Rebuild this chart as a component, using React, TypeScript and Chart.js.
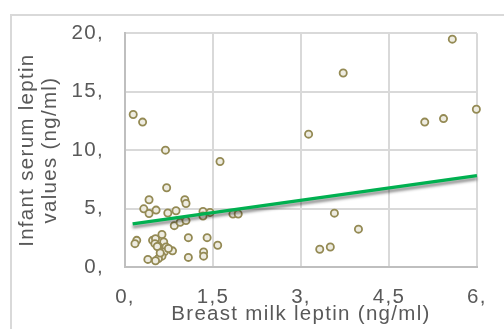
import React, { useEffect, useRef } from 'react';
import { Chart, registerables } from 'chart.js';

Chart.register(...registerables);

// Breast milk leptin (ng/ml)
const milkLeptin = [
  0.14, 0.30, 0.69, 1.62, 0.71, 0.41, 0.32, 0.41, 0.53, 1.02, 1.04, 0.73, 0.87,
  0.84, 0.94, 1.04, 1.33, 1.33, 1.45, 1.84, 1.93, 0.20, 0.17, 0.47, 0.52, 0.63,
  0.51, 0.66, 0.57, 0.70, 0.81, 0.67, 0.63, 0.57, 0.52, 0.39, 1.08, 1.08, 1.40,
  1.34, 1.34, 1.58, 0.55, 0.74, 0.60,
  3.13, 3.72, 5.58, 5.11, 5.43, 5.99, 3.57, 3.98, 3.32, 3.50,
];
// Infant serum leptin values (ng/ml)
const serumLeptin = [
  13.05, 12.4, 10.0, 9.03, 6.78, 5.76, 4.98, 4.58, 4.87, 5.76, 5.43, 4.62, 4.81,
  3.54, 3.82, 3.97, 4.75, 4.36, 4.67, 4.53, 4.53, 2.28, 2.0, 2.28, 2.42, 2.78,
  2.0, 2.14, 1.77, 1.71, 1.38, 1.29, 0.93, 0.73, 0.53, 0.65, 2.51, 0.82, 2.51,
  1.29, 0.93, 1.86, 1.75, 1.58, 1.2,
  11.37, 16.6, 19.5, 12.4, 12.7, 13.5, 4.61, 3.24, 1.52, 1.71,
];
// Linear trendline end points
const trendX = [0.13, 6.0];
const trendY = [3.69, 7.82];

const xTickLabels = ['0,', '1,5', '3,', '4,5', '6,'];
const yTickLabels = ['0,', '5,', '10,', '15,', '20,'];
const xTitle = 'Breast milk leptin (ng/ml)';
const yTitle = ['Infant serum leptin', 'values (ng/ml)'];

const FONT_FAMILY = "'Liberation Sans', Arial, sans-serif";
const TEXT_COLOR = '#595959';

const spacingPlugin = {
  id: 'letterSpacing',
  beforeDraw(chart: any) {
    (chart.ctx as any).letterSpacing = '1.3px';
  },
  afterDraw(chart: any) {
    (chart.ctx as any).letterSpacing = '0px';
  },
};

const shadowPlugin = {
  id: 'trendShadow',
  beforeDatasetDraw(chart: any, args: any) {
    if (args.index === 0) {
      const c = chart.ctx;
      c.save();
      c.shadowColor = 'rgba(0,0,0,0.45)';
      c.shadowBlur = 3;
      c.shadowOffsetX = 0;
      c.shadowOffsetY = 3;
    }
  },
  afterDatasetDraw(chart: any, args: any) {
    if (args.index === 0) chart.ctx.restore();
  },
};

export default function App() {
  const ref = useRef<HTMLCanvasElement | null>(null);

  useEffect(() => {
    if (!ref.current) return;
    const tickFont = { family: FONT_FAMILY, size: 20.5, lineHeight: 1.2 };
    const titleFont = { family: FONT_FAMILY, size: 20.5, lineHeight: 1.12 };
    const chart = new Chart(ref.current, {
      type: 'scatter',
      data: {
        datasets: [
          {
            label: 'Trend',
            data: trendX.map((x, i) => ({ x, y: trendY[i] })),
            showLine: true,
            borderColor: '#00B050',
            borderWidth: 3.5,
            pointRadius: 0,
            fill: false,
            clip: false,
          } as any,
          {
            label: 'Leptin',
            data: milkLeptin.map((x, i) => ({ x, y: serumLeptin[i] })),
            pointRadius: 3.6,
            pointBorderWidth: 1.8,
            borderColor: '#948A54',
            backgroundColor: '#EEECE1',
            clip: false,
          } as any,
        ],
      },
      options: {
        animation: false,
        responsive: true,
        maintainAspectRatio: false,
        layout: { padding: { top: 30, right: 21, left: 0, bottom: 0 } },
        plugins: {
          legend: { display: false },
          tooltip: { enabled: false },
        },
        scales: {
          x: {
            type: 'linear',
            min: 0,
            max: 6,
            ticks: {
              stepSize: 1.5,
              callback: (_v: any, i: number) => xTickLabels[i],
              font: tickFont,
              color: TEXT_COLOR,
              padding: 18.5,
              maxRotation: 0,
              autoSkip: false,
            },
            grid: { color: '#D9D9D9', lineWidth: 2, drawTicks: false },
            border: { color: '#BFBFBF', width: 2 },
            title: {
              display: true,
              text: xTitle,
              font: titleFont,
              color: TEXT_COLOR,
              padding: { top: 0, bottom: 3 },
            },
            afterFit: (s: any) => {
              s.height = 62;
            },
          },
          y: {
            type: 'linear',
            min: 0,
            max: 20,
            ticks: {
              stepSize: 5,
              callback: (_v: any, i: number) => yTickLabels[i],
              font: tickFont,
              color: TEXT_COLOR,
              padding: 21,
            },
            grid: { color: '#D9D9D9', lineWidth: 2, drawTicks: false },
            border: { color: '#BFBFBF', width: 2 },
            title: {
              display: true,
              text: yTitle,
              font: titleFont,
              color: TEXT_COLOR,
              padding: { top: 16, bottom: 0 },
            },
            afterFit: (s: any) => {
              s.width = 125;
            },
          },
        },
      } as any,
      plugins: [spacingPlugin, shadowPlugin],
    });
    return () => chart.destroy();
  }, []);

  return (
    <div
      style={{
        position: 'fixed',
        left: 0,
        top: 0,
        width: 504,
        height: 329,
        overflow: 'hidden',
        background: '#fff',
      }}
    >
      <div
        style={{
          position: 'absolute',
          left: 10,
          top: 14,
          width: 1000,
          height: 1000,
          border: '2px solid #D9D9D9',
        }}
      />
      <div style={{ position: 'absolute', left: 0, top: 0, width: 504, height: 329 }}>
        <canvas ref={ref} />
      </div>
    </div>
  );
}
